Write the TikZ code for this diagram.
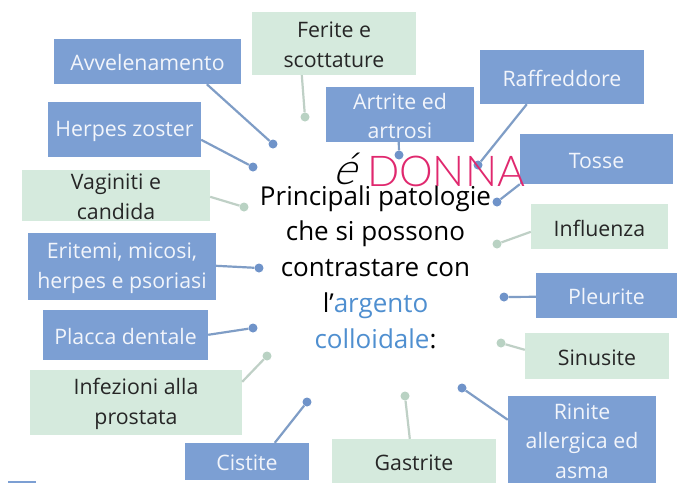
\documentclass[tikz,border=0pt]{standalone}
\usepackage{fontspec}
\setmainfont{Open Sans}
\newfontfamily\thinfont{Lato Light}
\usetikzlibrary{calc}
\definecolor{bluebox}{HTML}{7C9FD3}
\definecolor{greenbox}{HTML}{D5EADD}
\definecolor{blueline}{HTML}{7F9DC6}
\definecolor{greenline}{HTML}{BFD0C6}
\definecolor{bluedot}{HTML}{6F93C9}
\definecolor{greendot}{HTML}{B9D2C3}
\definecolor{pinkdonna}{HTML}{E0286E}
\definecolor{linkblue}{HTML}{4F8FD0}
\tikzset{
 x=1pt,y=-1pt,
 base/.style={inner sep=0pt,align=center,font=\fontsize{21.3}{29.5}\selectfont},
 bbox/.style={fill=bluebox},
 gbox/.style={fill=greenbox},
 btext/.style={base,text=white!90!bluebox},
 gtext/.style={base,text=black!85},
 bline/.style={draw=blueline,line width=2.2pt},
 gline/.style={draw=greenline,line width=2.2pt},
 bdot/.style={circle,fill=bluedot,minimum size=9pt,inner sep=0pt},
 gdot/.style={circle,fill=greendot,minimum size=9pt,inner sep=0pt},
}
\newcommand{\boxat}[8]{\node[#1,inner sep=0pt,minimum width=#6pt-#4pt,minimum height=#7pt-#5pt] (#3) at ({(#4+#6)/2},{(#5+#7)/2}) {};
\node[#2] (#3t) at ({(#4+#6)/2},{(#5+#7)/2+1.5}) {#8};}
\begin{document}
\begin{tikzpicture}
\useasboundingbox (0,0) rectangle (697,483);
\fill[white] (0,0) rectangle (697,483);
% dots
\node[bdot] (d1) at (273,144) {};
\node[bdot] (d2) at (253,167) {};
\node[gdot] (d3) at (244,207) {};
\node[bdot] (d4) at (259,268) {};
\node[bdot] (d5) at (253,328) {};
\node[gdot] (d6) at (267,356) {};
\node[bdot] (d7) at (307,402) {};
\node[gdot] (d8) at (405,396) {};
\node[gdot] (d9) at (305,117) {};
\node[bdot] (d10) at (399,155) {};
\node[bdot] (d11) at (478,165) {};
\node[bdot] (d12) at (497,202) {};
\node[gdot] (d13) at (497,244) {};
\node[bdot] (d14) at (504,297) {};
\node[gdot] (d15) at (501,343) {};
\node[bdot] (d16) at (462,388) {};
% boxes
\boxat{bbox}{btext}{av}{54}{39}{241}{84}{Avvelenamento}
\boxat{bbox}{btext}{he}{48}{102}{201}{157}{Herpes zoster}
\boxat{bbox}{btext}{er}{28}{233}{216}{300}{Eritemi, micosi,\\herpes e psoriasi}
\boxat{bbox}{btext}{pl}{43}{310}{208}{360}{Placca dentale}
\boxat{bbox}{btext}{ci}{185}{443}{309}{480}{Cistite}
\boxat{bbox}{btext}{ar}{326}{87}{474}{142}{Artrite ed\\artrosi}
\boxat{bbox}{btext}{ra}{480}{50}{644}{104}{Raffreddore}
\boxat{bbox}{btext}{to}{520}{134}{673}{184}{Tosse}
\boxat{bbox}{btext}{pu}{536}{273}{677}{318}{Pleurite}
\boxat{bbox}{btext}{ri}{508}{396}{656}{483}{Rinite\\allergica ed\\asma}
\boxat{gbox}{gtext}{fe}{252}{12}{416}{75}{Ferite e\\scottature}
\boxat{gbox}{gtext}{va}{22}{170}{210}{221}{Vaginiti e\\candida}
\boxat{gbox}{gtext}{in}{30}{370}{242}{435}{Infezioni alla\\prostata}
\boxat{gbox}{gtext}{ga}{332}{439}{496}{483}{Gastrite}
\boxat{gbox}{gtext}{fl}{531}{204}{668}{249}{Influenza}
\boxat{gbox}{gtext}{si}{525}{333}{669}{379}{Sinusite}
\fill[bluebox] (8,480.5) rectangle (36,483);
% connectors
\draw[bline] ($(av.south west)+(153,0)$) -- (d1);
\draw[bline] ($(he.north east)+(0,38)$) -- (d2);
\draw[gline] ($(va.north east)+(0,27)$) -- (d3);
\draw[bline] ($(er.north east)+(0,33)$) -- (d4);
\draw[bline] ($(pl.north east)+(0,25)$) -- (d5);
\draw[gline] ($(in.north east)+(0,12)$) -- (d6);
\draw[bline] ($(ci.north west)+(90,0)$) -- (d7);
\draw[gline] ($(ga.north west)+(78,0)$) -- (d8);
\draw[gline] ($(fe.south west)+(50,0)$) -- (d9);
\draw[bline] ($(ar.south west)+(73,0)$) -- (d10);
\draw[bline] ($(ra.south west)+(47,0)$) -- (d11);
\draw[bline] (to.south west) -- (d12);
\draw[gline] ($(fl.north west)+(0,28)$) -- (d13);
\draw[bline] ($(pu.north west)+(0,24)$) -- (d14);
\draw[gline] ($(si.north west)+(0,17)$) -- (d15);
\draw[bline] ($(ri.north west)+(0,24)$) -- (d16);
% title
\node[inner sep=0pt,align=center,text=black,font=\fontsize{26}{35.8}\selectfont] (title) at (375.5,267)
 {Principali patologie\\che si possono\\contrastare con\\l’\textcolor{linkblue}{argento}\\\textcolor{linkblue}{colloidale}:};
% logo
\node[inner sep=0pt,text=pinkdonna,font=\thinfont\fontsize{42.5}{42}\selectfont] (donna) at (446,171) {DONNA};
\node[inner sep=0pt,text=black,font=\thinfont\fontsize{44}{44}\selectfont,xslant=0.35] (e) at (349,169) {é};
\end{tikzpicture}
\end{document}
